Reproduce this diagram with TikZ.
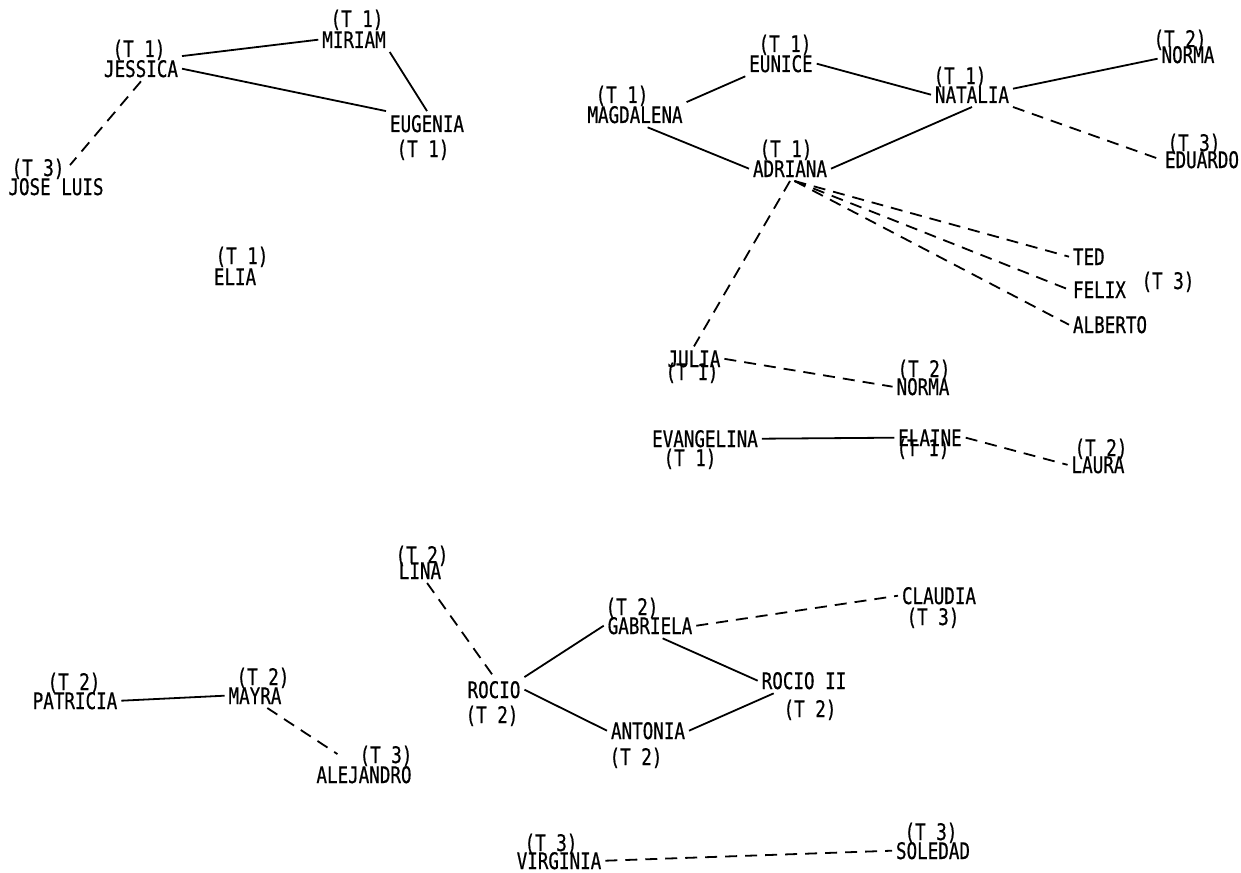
\documentclass[tikz,border=0pt]{standalone}
\usepackage{fontspec}
\newfontfamily\typefont[FakeStretch=0.77,FakeBold=0.6]{DejaVu Sans Mono}
\begin{document}
\begin{tikzpicture}[x=0.5pt,y=-0.5pt,
  person/.style={font=\typefont\fontsize{11.4pt}{12pt}\selectfont, inner sep=2pt, outer sep=0pt, anchor=base},
  tag/.style={font=\typefont\fontsize{11.4pt}{12pt}\selectfont, inner sep=0pt, anchor=base},
  tie/.style={line width=0.9pt},
  weak/.style={line width=0.9pt, dash pattern=on 6pt off 4pt}]
\fill[white] (0,0) rectangle (1241,872);
\useasboundingbox (0,0) rectangle (1241,872);

% ---- group of Jessica ----
\node[person] (jessica) at (141,77) {JESSICA};
\node[tag] (jessica-t) at (139,57) {(T 1)};
\node[person] (miriam) at (354,48) {MIRIAM};
\node[tag] (miriam-t) at (357,27) {(T 1)};
\node[person] (eugenia) at (427,132) {EUGENIA};
\node[tag] (eugenia-t) at (423,157) {(T 1)};
\node[person] (joseluis) at (56,195) {JOSE LUIS};
\node[tag] (joseluis-t) at (38,176) {(T 3)};
\node[person] (elia) at (235,285) {ELIA};
\node[tag] (elia-t) at (242,264) {(T 1)};

% ---- group of Adriana ----
\node[person] (magdalena) at (635,123) {MAGDALENA};
\node[tag] (magdalena-t) at (622,103) {(T 1)};
\node[person] (eunice) at (781,72) {EUNICE};
\node[tag] (eunice-t) at (785,52) {(T 1)};
\node[person] (adriana) at (790,177) {ADRIANA};
\node[tag] (adriana-t) at (786,157) {(T 1)};
\node[person] (natalia) at (972,103) {NATALIA};
\node[tag] (natalia-t) at (960,84) {(T 1)};
\node[person] (normaa) at (1188,63) {NORMA};
\node[tag] (normaa-t) at (1180,47) {(T 2)};
\node[person] (eduardo) at (1202,168) {EDUARDO};
\node[tag] (eduardo-t) at (1194,151) {(T 3)};
\node[person, anchor=base west] (ted) at (1069,265) {TED};
\node[person, anchor=base west] (felix) at (1069,298) {FELIX};
\node[person, anchor=base west] (alberto) at (1069,333) {ALBERTO};
\node[tag] (boys-t) at (1168,289) {(T 3)};
\node[person] (julia) at (694,367) {JULIA};
\node[tag] (julia-t) at (692,380) {(T 1)};
\node[person] (normab) at (923,395) {NORMA};
\node[tag] (normab-t) at (924,377) {(T 2)};
\node[person] (evangelina) at (705,447) {EVANGELINA};
\node[tag] (evangelina-t) at (690,466) {(T 1)};
\node[person] (elaine) at (930,446) {ELAINE};
\node[tag] (elaine-t) at (923,456) {(T 1)};
\node[person] (laura) at (1098,473) {LAURA};
\node[tag] (laura-t) at (1101,456) {(T 2)};

% ---- group of Rocio ----
\node[person] (lina) at (420,579) {LINA};
\node[tag] (lina-t) at (422,563) {(T 2)};
\node[person] (rocio) at (494,698) {ROCIO};
\node[tag] (rocio-t) at (492,723) {(T 2)};
\node[person] (gabriela) at (650,634) {GABRIELA};
\node[tag] (gabriela-t) at (632,615) {(T 2)};
\node[person] (claudia) at (939,604) {CLAUDIA};
\node[tag] (claudia-t) at (933,625) {(T 3)};
\node[person] (antonia) at (648,739) {ANTONIA};
\node[tag] (antonia-t) at (636,765) {(T 2)};
\node[person] (rocioii) at (804,689) {ROCIO II};
\node[tag] (rocioii-t) at (810,717) {(T 2)};

% ---- group of Mayra ----
\node[person] (patricia) at (75,709) {PATRICIA};
\node[tag] (patricia-t) at (74,690) {(T 2)};
\node[person] (mayra) at (255,704) {MAYRA};
\node[tag] (mayra-t) at (263,685) {(T 2)};
\node[person] (alejandro) at (364,783) {ALEJANDRO};
\node[tag] (alejandro-t) at (386,763) {(T 3)};

% ---- pair Virginia / Soledad ----
\node[person] (virginia) at (559,869) {VIRGINIA};
\node[tag] (virginia-t) at (551,851) {(T 3)};
\node[person] (soledad) at (933,859) {SOLEDAD};
\node[tag] (soledad-t) at (931,840) {(T 3)};

% ---- mutual choices ----
\draw[tie] (jessica.north east) -- (miriam.west);
\draw[tie] (jessica.east) -- (eugenia.north west);
\draw[tie] (miriam.south east) -- (eugenia.north);
\draw[tie] (magdalena.north east) -- (eunice.south west);
\draw[tie] (magdalena.-45) -- (adriana.west);
\draw[tie] (eunice.east) -- (natalia.west);
\draw[tie] ([yshift=3pt]natalia.east) -- ([yshift=-2pt]normaa.west);
\draw[tie] (natalia.south) -- (adriana.east);
\draw[tie] (evangelina.east) -- (elaine.west);
\draw[tie] (patricia.east) -- (mayra.west);
\draw[tie] (rocio.north east) -- (gabriela.west);
\draw[tie] (rocio.east) -- (antonia.west);
\draw[tie] (gabriela.-45) -- (rocioii.west);
\draw[tie] (antonia.east) -- ([xshift=8pt]rocioii.south west);

% ---- one-way choices ----
\draw[weak] (jessica.south) -- ([xshift=7pt,yshift=4.5pt]joseluis.north);
\draw[weak] (natalia.south east) -- (eduardo.west);
\draw[weak] (adriana.south) -- (julia.north);
\draw[weak] (adriana.-70) -- (ted.west);
\draw[weak] (adriana.-70) -- (felix.west);
\draw[weak] (adriana.-70) -- (alberto.west);
\draw[weak] (julia.east) -- (normab.west);
\draw[weak] (elaine.east) -- (laura.west);
\draw[weak] (lina.-60) -- (rocio.north);
\draw[weak] (mayra.-45) -- ([xshift=12.5pt,yshift=4pt]alejandro.north west);
\draw[weak] (gabriela.east) -- (claudia.west);
\draw[weak] (virginia.east) -- (soledad.west);
\end{tikzpicture}
\end{document}
